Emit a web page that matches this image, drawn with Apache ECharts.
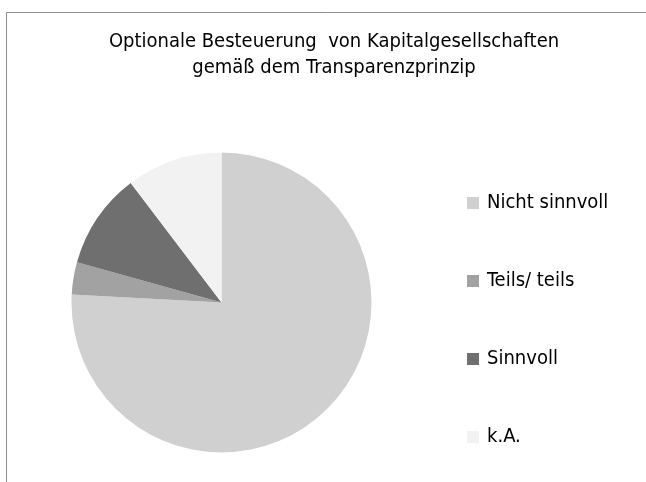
<!DOCTYPE html>
<html>
<head>
<meta charset="utf-8">
<script src="https://cdn.jsdelivr.net/npm/echarts@6/dist/echarts.min.js"></script>
<style>
  html, body { margin: 0; padding: 0; background: #fff; }
  #chart { width: 646px; height: 482px; }
</style>
</head>
<body>
<div id="chart"></div>
<script>
  const categories = ['Nicht sinnvoll', 'Teils/ teils', 'Sinnvoll', 'k.A.'];
  const counts = [22, 1, 3, 3];
  const colors = ['#d0d0d0', '#a2a2a2', '#6f6f6f', '#f2f2f2'];

  const font = '"Liberation Sans Narrow", "DejaVu Sans Condensed", sans-serif';

  const chart = echarts.init(document.getElementById('chart'));

  const option = {
    animation: false,
    title: {
      text: 'Optionale Besteuerung  von Kapitalgesellschaften\ngemäß dem Transparenzprinzip',
      left: 329,
      top: 24,
      textAlign: 'center',
      textStyle: {
        fontFamily: font,
        fontSize: 20,
        fontWeight: 'normal',
        color: '#000',
        lineHeight: 26
      }
    },
    legend: {
      orient: 'vertical',
      left: 462,
      top: 188,
      itemWidth: 12,
      itemHeight: 12,
      itemGap: 58,
      icon: 'rect',
      textStyle: {
        fontFamily: font,
        fontSize: 20,
        color: '#000',
        padding: [0, 0, 0, 3]
      },
      data: categories
    },
    graphic: [{
      type: 'polyline',
      shape: { points: [[6.5, 482], [6.5, 12.5], [646, 12.5]] },
      style: { stroke: '#8c8c8c', lineWidth: 1, fill: null }
    }],
    series: [{
      type: 'pie',
      center: [221.5, 302.5],
      radius: 150,
      startAngle: 90,
      clockwise: true,
      label: { show: false },
      labelLine: { show: false },
      emphasis: { disabled: true },
      itemStyle: { borderWidth: 0 },
      data: categories.map((name, i) => ({
        name: name,
        value: counts[i],
        itemStyle: { color: colors[i] }
      }))
    }]
  };

  chart.setOption(option);
</script>
</body>
</html>
